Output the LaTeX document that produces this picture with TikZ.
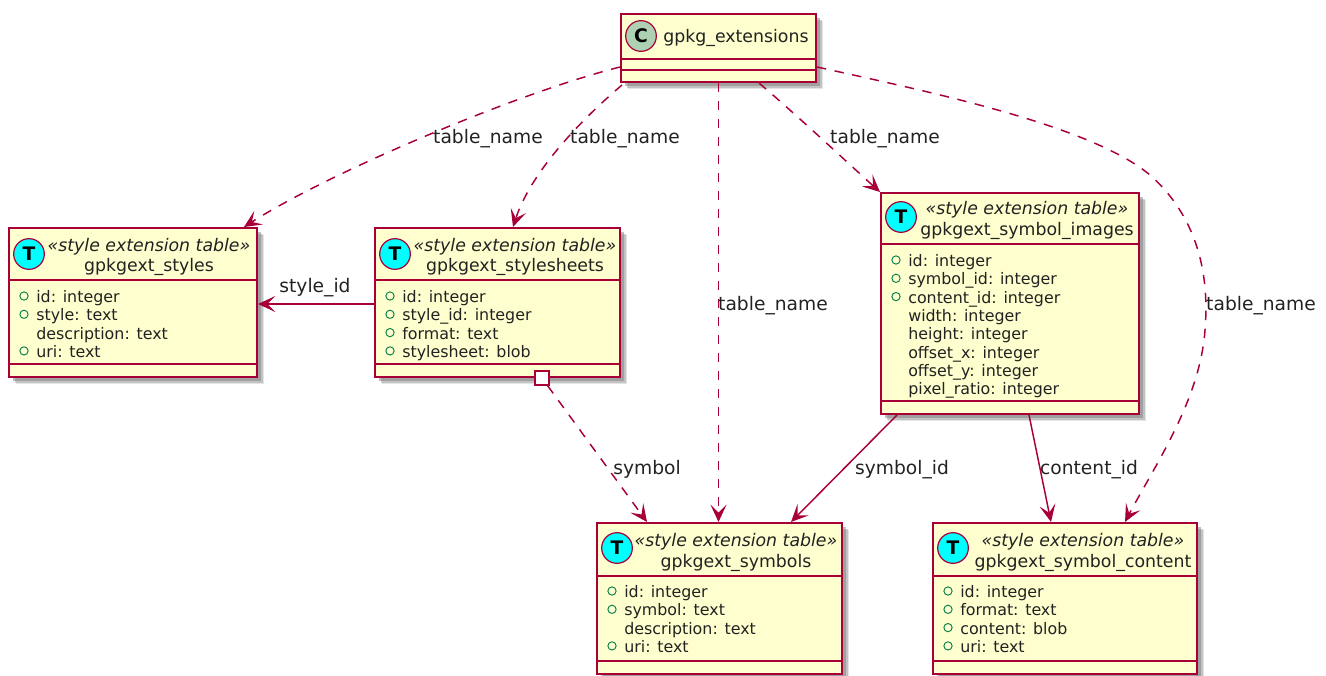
\documentclass[tikz,border=0pt]{standalone}
\usepackage{fontspec}
\setmainfont{DejaVu Sans}
\usepackage{xcolor}
\usetikzlibrary{positioning,calc,arrows.meta,shadows}
\definecolor{umlred}{HTML}{A80036}
\definecolor{umlfill}{HTML}{FEFECE}
\definecolor{umlgreen}{HTML}{038048}
\definecolor{umlspot}{HTML}{ADD1B2}
\definecolor{umlcyan}{HTML}{00FFFF}
\definecolor{umltext}{HTML}{222222}
\tikzset{
    table box/.style={
        draw=umlred,
        fill=umlfill,
        line width=1.5pt,
        inner sep=0pt,
        general shadow={shadow xshift=5.5pt,shadow yshift=-5.5pt,fill=black!40,opacity=.25},
        general shadow={shadow xshift=4.2pt,shadow yshift=-4.2pt,fill=black!45,opacity=.4},
        general shadow={shadow xshift=3pt,shadow yshift=-3pt,fill=black!50,opacity=.5}
    },
    table line/.style={draw=umlred,line width=1.5pt},
    spot/.style={
        circle,
        draw=umlred,
        line width=.9pt,
        minimum size=23pt,
        inner sep=0pt
    },
    table head/.style={text=umltext,font=\fontsize{13}{15}\selectfont,inner sep=0pt,text height=13pt,text depth=3pt},
    table stereo/.style={text=umltext,font=\fontsize{13}{15}\itshape\selectfont,inner sep=0pt,text height=13pt,text depth=3pt},
    table row/.style={text=umltext,font=\fontsize{11.9}{14}\selectfont,inner sep=0pt,anchor=west,text height=13pt,text depth=3pt},
    row mark/.style={circle,draw=umlgreen,line width=.7pt,minimum size=6.2pt,inner sep=0pt},
    link label/.style={text=umltext,font=\fontsize{14}{16}\selectfont,inner sep=0pt,text height=13pt,text depth=3pt},
    link/.style={draw=umlred,line width=1.1pt,-{Stealth[length=13pt,width=12pt,inset=6pt]}},
    dashed link/.style={link,dash pattern=on 7pt off 6.5pt}
}
% box name, first row offset below its top, then mark/text pairs
\newcommand{\tablerows}[3]{
  \foreach \m/\t [count=\i] in {#3}{
    \node[table row] (#1-r\i) at ($(#1.north west)+(28,{#2+16+18.3*(\i-1)})$) {\t};
    \ifnum\m=1
      \node[row mark] (#1-m\i) at ($(#1.north west)+(16,{#2+16+18.3*(\i-1)})$) {};
    \fi
  }
}
\begin{document}
\begin{tikzpicture}[x=0.75pt,y=-0.75pt]
  \useasboundingbox (0,0) rectangle (1326,675);
  % boxes: name/left/top/right/bottom/head/last
  \foreach \n/\l/\t/\r/\b/\hl/\sl in {
      extensions/621/14/816/82/46/57,
      styles/9/228/257/377/53/137,
      stylesheets/375/228/620/377/53/137,
      images/881/193/1139/414/52/209,
      symbols/597/523/842/674/54/139,
      content/933/523/1197/674/54/139}{
    \node[table box,minimum width={(\r-\l)*0.75pt},minimum height={(\b-\t)*0.75pt}]
      (\n) at ({(\l+\r)/2},{(\t+\b)/2}) {};
    \draw[table line] ($(\n.north west)+(0,\hl)$) -- ($(\n.north east)+(0,\hl)$);
    \draw[table line] ($(\n.north west)+(0,\sl)$) -- ($(\n.north east)+(0,\sl)$);
  }
  % class spots
  \node[spot,fill=umlspot] (extensions-spot) at ($(extensions.north west)+(21,23)$) {\fontsize{14}{14}\selectfont\bfseries C};
  \foreach \n/\dy in {styles/27,stylesheets/27,images/25,symbols/26,content/26}
    \node[spot,fill=umlcyan] (\n-spot) at ($(\n.north west)+(21,\dy)$) {\fontsize{14}{14}\selectfont\bfseries T};
  % titles
  \node[table head,anchor=west] (extensions-title) at (663,36) {gpkg\_extensions};
  \foreach \n/\x/\ys/\yn/\s in {
      styles/149/245/265/gpkgext\_styles,
      stylesheets/515/245/265/gpkgext\_stylesheets,
      images/1027/208/229/gpkgext\_symbol\_images,
      symbols/736/540/561/gpkgext\_symbols,
      content/1083/540/561/gpkgext\_symbol\_content}{
    \node[table stereo] (\n-stereo) at (\x,\ys) {«style extension table»};
    \node[table head] (\n-title) at (\x,\yn) {\s};
  }
  % rows
  \tablerows{styles}{53}{1/id: integer,1/style: text,0/description: text,1/uri: text}
  \tablerows{stylesheets}{53}{1/id: integer,1/style\_id: integer,1/format: text,1/stylesheet: blob}
  \tablerows{images}{52}{1/id: integer,1/symbol\_id: integer,1/content\_id: integer,0/width: integer,
    0/height: integer,0/offset\_x: integer,0/offset\_y: integer,0/pixel\_ratio: integer}
  \tablerows{symbols}{53}{1/id: integer,1/symbol: text,0/description: text,1/uri: text}
  \tablerows{content}{53}{1/id: integer,1/format: text,1/content: blob,1/uri: text}
  % links
  \draw[dashed link] ($(extensions.north west)+(0,54)$) .. controls (520,92) and (330,172) .. ($(styles.north east)+(-14,0)$);
  \draw[dashed link] ($(extensions.south west)+(2,2)$) .. controls (575,125) and (530,175) .. ($(stylesheets.north west)+(139,0)$);
  \draw[dashed link] ($(extensions.south west)+(98.5,0)$) -- ($(symbols.north west)+(122.5,0)$);
  \draw[dashed link] ($(extensions.south west)+(139,0)$) .. controls (800,118) and (850,165) .. (images.north west);
  \draw[dashed link] ($(extensions.north east)+(0,54)$) .. controls (930,92) and (1090,125) .. (1150,175)
    .. controls (1195,215) and (1210,270) .. (1205,330)
    .. controls (1200,400) and (1155,465) .. ($(content.north west)+(193,0)$);
  \draw[link] ($(stylesheets.north west)+(0,77)$) -- ($(styles.north east)+(0,77)$);
  \node[draw=umlred,fill=white,line width=1.2pt,minimum size=10.5pt,inner sep=0pt] (stylesheets-square) at ($(stylesheets.south west)+(168,0)$) {};
  \draw[dashed link] (stylesheets-square) -- ($(symbols.north west)+(51,0)$);
  \draw[link] ($(images.south west)+(17,0)$) -- ($(symbols.north west)+(195,0)$);
  \draw[link] ($(images.south west)+(149,0)$) -- ($(content.north west)+(119,0)$);
  % link labels
  \foreach \n/\x/\y/\s in {
      a/488/137/table\_name,
      b/625/137/table\_name,
      c/773/304/table\_name,
      d/885/137/table\_name,
      e/1261/304/table\_name,
      f/315/286/style\_id,
      g/647/468/symbol,
      h/902/468/symbol\_id,
      i/1089/468/content\_id}
    \node[link label] (label-\n) at (\x,\y) {\s};
\end{tikzpicture}
\end{document}
